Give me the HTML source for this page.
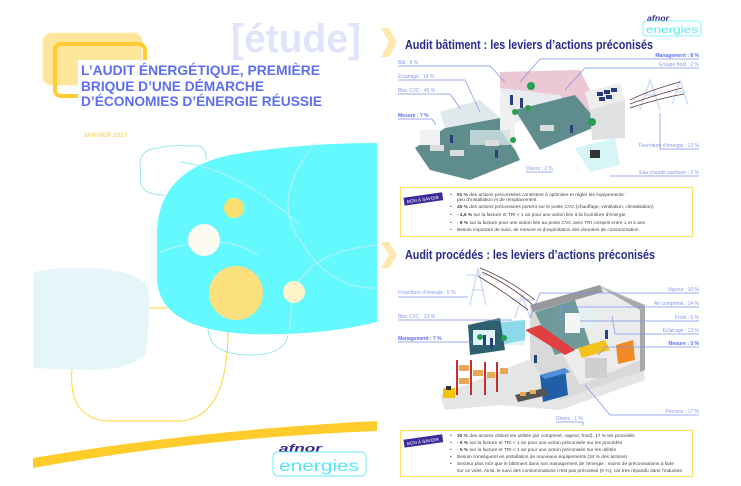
<!DOCTYPE html>
<html><head><meta charset="utf-8"><style>
html,body{margin:0;padding:0;background:#fff;}
body{width:741px;height:486px;overflow:hidden;position:relative;font-family:"Liberation Sans",sans-serif;}
svg{position:absolute;left:0;top:0;}
</style></head><body>
<svg width="741" height="486" viewBox="0 0 741 486" xmlns="http://www.w3.org/2000/svg" font-family="Liberation Sans, sans-serif">
<rect x="0" y="0" width="378" height="486" fill="#fff"/>
<text x="231" y="52" font-size="40" font-weight="bold" fill="#dfe3fb" textLength="130" lengthAdjust="spacingAndGlyphs">[étude]</text>
<rect x="43" y="33" width="99" height="52" rx="8" fill="#fde599" stroke="#fff1bf" stroke-width="1"/>
<rect x="55" y="44" width="90" height="52" rx="6" fill="none" stroke="#ffcc33" stroke-width="4"/>
<rect x="78" y="60" width="248" height="48" fill="#fff"/>
<g font-size="14" font-weight="bold" fill="#5c6ef2">
<text x="81" y="75" textLength="239" lengthAdjust="spacingAndGlyphs">L’AUDIT ÉNERGÉTIQUE, PREMIÈRE</text>
<text x="81" y="91" textLength="183" lengthAdjust="spacingAndGlyphs">BRIQUE D’UNE DÉMARCHE</text>
<text x="81" y="106" textLength="241" lengthAdjust="spacingAndGlyphs">D’ÉCONOMIES D’ÉNERGIE RÉUSSIE</text>
</g>
<text x="83" y="137" font-size="6.5" font-weight="bold" fill="#ffd866">JANVIER 2017</text>
<path d="M33 275 Q33 268 80 268 Q140 268 149 290 Q150 330 145 355 Q125 372 80 370 L33 368 Z" fill="#e6f6f8"/>
<path d="M72 370 Q68 420 110 421 L180 421 Q228 418 228 330 L228 300" fill="none" stroke="#ffd633" stroke-width="1"/>
<path d="M149 308 L168 308" stroke="#ffd633" stroke-width="1"/>
<path d="M160 148 Q162 145 200 146 Q207 150 206 160 M140 165 Q140 148 160 148 M140 165 L141 185 Q145 195 165 195" fill="none" stroke="#7fe0e8" stroke-width="0.8"/>
<path d="M157 230 Q160 170 230 155 Q300 143 377 143 L377 322 Q320 336 250 334 Q160 330 157 280 Z" fill="#64f8ff"/>
<path d="M208 327 Q208 355 250 355 Q285 355 288 335" fill="none" stroke="#7fe0e8" stroke-width="0.8"/>
<g fill="none" stroke="#a8f2f6" stroke-width="1.3">
<path d="M180 162 Q240 170 300 225"/>
<path d="M315 143 Q270 200 300 240 Q330 290 377 288"/>
<path d="M160 252 Q220 230 258 255"/>
<path d="M377 245 Q320 250 300 280 Q290 300 290 330"/>
</g>
<circle cx="234" cy="208" r="10" fill="#fcdf6f"/>
<circle cx="204" cy="240" r="16" fill="#fdfaf0"/>
<circle cx="236" cy="293" r="27" fill="#fbe07d"/>
<circle cx="294" cy="292" r="11" fill="#fdf2c8"/>
<path d="M33 458 Q200 430 377 421 L377 431 Q200 438 33 468 Z" fill="#ffcc2b"/>
<text x="279" y="452" font-size="11" font-weight="bold" font-style="italic" fill="#3b2a8f" textLength="43" lengthAdjust="spacingAndGlyphs">afnor</text>
<rect x="273" y="452" width="93" height="24" rx="5" fill="none" stroke="#66eeff" stroke-width="1"/>
<text x="279" y="471" font-size="16" fill="#55e6f5" textLength="80" lengthAdjust="spacingAndGlyphs">energies</text>

<!-- RIGHT PAGE -->
<path d="M381 28 L389 28 L397 42 L389 57 L381 57 L389 42 Z" fill="#fde8ad"/>
<path d="M381 242 L389 242 L397 255 L389 268 L381 268 L389 255 Z" fill="#fde8ad"/>
<text x="647" y="21" font-size="8" font-weight="bold" font-style="italic" fill="#3b2a8f" textLength="22" lengthAdjust="spacingAndGlyphs">afnor</text>
<rect x="643" y="21" width="58" height="15" rx="3" fill="none" stroke="#66eeff" stroke-width="0.8"/>
<text x="646" y="33" font-size="10" fill="#55e6f5" textLength="52" lengthAdjust="spacingAndGlyphs">energies</text>
<text x="405" y="49" font-size="13" font-weight="bold" fill="#2b2a8e" textLength="248" lengthAdjust="spacingAndGlyphs">Audit bâtiment : les leviers d’actions préconisés</text>
<text x="405" y="259" font-size="13" font-weight="bold" fill="#2b2a8e" textLength="250" lengthAdjust="spacingAndGlyphs">Audit procédés : les leviers d’actions préconisés</text>

<!-- building illustration -->
<polygon points="415,148 445,128 500,118 520,160 470,180 430,170" fill="#5f8c8d"/>
<polygon points="440,112 480,100 500,118 445,128" fill="#dfe8ea"/>
<polygon points="500,85 560,70 585,100 510,125" fill="#e8ecee"/>
<polygon points="500,85 500,130 515,150 515,120" fill="#f0f0f0"/>
<polygon points="500,72 580,70 600,110 590,130 560,95 500,88" fill="#ecc7d4"/>
<polygon points="515,110 575,95 600,125 540,150" fill="#5f8c8d"/>
<polygon points="585,92 620,83 625,100 590,110" fill="#eeeeee"/>
<polygon points="590,110 625,100 625,138 592,140" fill="#e0e0e0"/>
<g fill="#2a3a80"><rect x="597" y="92" width="6" height="4"/><rect x="604" y="90" width="6" height="4"/><rect x="611" y="88" width="6" height="4"/><rect x="599" y="97" width="6" height="4"/><rect x="606" y="95" width="6" height="4"/></g>
<polygon points="575,148 615,138 620,165 590,172" fill="#d7f4f6"/>
<rect x="590" y="150" width="10" height="8" fill="#333"/>
<rect x="470" y="130" width="40" height="15" fill="#cfe3e6" opacity="0.8"/>
<rect x="420" y="130" width="20" height="15" fill="#f2f2f2"/>
<g fill="#ddd"><rect x="430" y="145" width="14" height="6"/><rect x="450" y="150" width="14" height="6"/><rect x="485" y="140" width="14" height="6"/><rect x="540" y="125" width="14" height="6"/></g>
<g fill="#26a050"><circle cx="531" cy="86" r="4"/><circle cx="515" cy="112" r="3"/><circle cx="513" cy="140" r="3"/><circle cx="592" cy="122" r="4"/><circle cx="528" cy="108" r="3"/></g>
<g fill="#2a3f7a"><rect x="510" y="95" width="3" height="10"/><rect x="520" y="98" width="3" height="10"/><rect x="450" y="135" width="3" height="8"/><rect x="570" y="125" width="3" height="8"/><rect x="495" y="150" width="3" height="8"/></g>
<g stroke="#c9daf5" stroke-width="1.2" fill="none">
<path d="M640 110 L650 80 L660 110 M645 95 L655 95"/><path d="M672 105 L680 80 L688 105 M675 92 L685 92"/>
</g>
<g stroke="#5a3b3b" stroke-width="0.8" fill="none"><path d="M630 100 Q650 90 680 82"/><path d="M630 104 Q655 95 682 88"/><path d="M630 108 Q660 98 684 94"/></g>

<g font-size="5" fill="#8898ee">
<text x="398" y="64">Bât : 5 %</text>
<text x="398" y="78">Éclairage : 16 %</text>
<text x="398" y="92">Bloc CVC : 45 %</text>
<text x="398" y="117" font-weight="bold" fill="#5c6ef2">Mesure : 7 %</text>
<text x="699" y="57" text-anchor="end" font-weight="bold" fill="#5c6ef2">Management : 8 %</text>
<text x="699" y="66" text-anchor="end">Groupe froid : 2 %</text>
<text x="699" y="147" text-anchor="end">Fourniture d’énergie : 13 %</text>
<text x="526" y="170">Divers : 2 %</text>
<text x="699" y="174" text-anchor="end">Eau chaude sanitaire : 2 %</text>
</g>
<g stroke="#7e90ee" stroke-width="0.7" fill="none">
<path d="M398 66 L490 66 L505 82"/><path d="M398 80 L465 80 L480 112"/><path d="M398 94 L450 94 L460 108"/>
<path d="M398 119 L432 119 L436 125"/><path d="M699 59 L540 59 L520 82"/><path d="M699 68 L585 68 L565 90"/>
<path d="M699 149 L660 149 L660 113"/><path d="M526 172 L553 172"/><path d="M699 176 L610 176"/>
</g>
<rect x="400.5" y="187.5" width="292" height="49" fill="#fff" stroke="#ffe066" stroke-width="1.2"/>
<g transform="rotate(-8 423 200)"><rect x="404" y="195" width="39" height="8" fill="#3a2a9a"/><text x="407" y="201" font-size="4.5" fill="#fff">BON À SAVOIR</text></g>
<g font-size="4.8" fill="#444">
<text x="450" y="196">•</text><text x="457" y="196"><tspan font-weight="bold">51 %</tspan> des actions préconisées consistent à optimiser et régler les équipements :</text>
<text x="457" y="201">peu d’installation et de remplacement</text>
<text x="450" y="208">•</text><text x="457" y="208"><tspan font-weight="bold">45 %</tspan> des actions préconisées portent sur le poste CVC (chauffage, ventilation, climatisation)</text>
<text x="450" y="216">•</text><text x="457" y="216"><tspan font-weight="bold">- 4,5 %</tspan> sur la facture et TRI &lt; 1 an pour une action liée à la fourniture d’énergie</text>
<text x="450" y="224">•</text><text x="457" y="224"><tspan font-weight="bold">- 8 %</tspan> sur la facture pour une action liée au poste CVC avec TRI compris entre 1 et 4 ans</text>
<text x="450" y="231">•</text><text x="457" y="231">Besoin important de suivi, de mesure et d’exploitation des données de consommation</text>
</g>

<!-- factory illustration -->
<g stroke="#c9daf5" stroke-width="1.3" fill="none">
<path d="M470 305 L478 268 L486 305 M472 290 L484 290 M466 275 L490 275"/><path d="M515 318 L522 295 L530 318 M512 300 L534 300"/>
</g>
<g stroke="#5a3b3b" stroke-width="0.8" fill="none"><path d="M480 268 Q510 280 535 300"/><path d="M482 272 Q510 285 533 305"/><path d="M478 276 Q505 292 528 310"/></g>
<polygon points="440,395 540,355 640,340 645,380 560,410 500,405 445,410" fill="#e5e5e5"/>
<polygon points="530,305 600,285 645,305 645,370 560,400 530,360" fill="#d9d9d9"/>
<polygon points="550,300 600,287 640,305 640,360 580,385 555,340" fill="#ececec"/>
<polygon points="600,287 645,305 645,370 640,372 640,310" fill="#aaa"/>
<polygon points="530,305 600,285 603,292 533,312" fill="#999"/>
<polygon points="535,312 575,300 590,345 555,355" fill="#6e9a9a"/>
<polygon points="525,330 540,325 575,350 565,355" fill="#e04040"/>
<rect x="495" y="320" width="30" height="25" fill="#dff4f8"/>
<polygon points="497,323 525,320 525,340 500,345" fill="#55c8e0" opacity="0.6"/>
<polygon points="468,325 500,318 505,350 470,355" fill="#2f6070"/>
<rect x="473" y="330" width="22" height="15" fill="#dff4f8"/>
<g fill="#c23030"><rect x="456" y="360" width="2" height="35"/><rect x="470" y="360" width="2" height="35"/><rect x="484" y="362" width="2" height="33"/><rect x="496" y="362" width="2" height="30"/></g>
<g fill="#e8a85a"><rect x="459" y="365" width="10" height="6"/><rect x="459" y="378" width="10" height="6"/><rect x="473" y="370" width="10" height="6"/><rect x="487" y="372" width="8" height="6"/><rect x="500" y="368" width="8" height="6"/></g>
<rect x="443" y="388" width="12" height="10" fill="#f2c300"/><rect x="446" y="386" width="5" height="4" fill="#333"/>
<polygon points="540,375 565,368 568,395 543,402" fill="#1f5fa8"/>
<polygon points="540,375 565,368 570,372 545,379" fill="#4f8fd8"/>
<polygon points="578,348 605,340 610,350 582,358" fill="#f5c21b"/>
<rect x="585" y="358" width="22" height="20" fill="#cfcfcf"/>
<polygon points="616,345 633,340 635,360 618,364" fill="#f08a24"/>
<polygon points="515,395 545,388 548,395 518,402" fill="#555"/>
<g fill="#e8a85a"><rect x="520" y="392" width="6" height="4"/><rect x="530" y="390" width="6" height="4"/></g>
<g fill="#26a050"><circle cx="480" cy="337" r="3"/><circle cx="504" cy="338" r="3"/></g>
<g fill="#2a3f7a"><rect x="483" y="335" width="3" height="10"/><rect x="490" y="338" width="3" height="10"/><rect x="534" y="355" width="3" height="8"/><rect x="605" y="330" width="3" height="9"/></g>
<rect x="565" y="313" width="15" height="20" fill="#f5f5f5"/>
<rect x="580" y="308" width="18" height="20" fill="#e5f0f2"/>

<g font-size="5" fill="#8898ee">
<text x="699" y="291" text-anchor="end">Vapeur : 10 %</text>
<text x="699" y="305" text-anchor="end">Air comprimé : 14 %</text>
<text x="699" y="319" text-anchor="end">Froid : 6 %</text>
<text x="699" y="332" text-anchor="end">Éclairage : 13 %</text>
<text x="699" y="345" text-anchor="end" font-weight="bold" fill="#5c6ef2">Mesure : 3 %</text>
<text x="398" y="294">Fourniture d’énergie : 6 %</text>
<text x="398" y="318">Bloc CVC : 23 %</text>
<text x="398" y="340" font-weight="bold" fill="#5c6ef2">Management : 7 %</text>
<text x="699" y="413" text-anchor="end">Process : 17 %</text>
<text x="556" y="420">Divers : 1 %</text>
</g>
<g stroke="#7e90ee" stroke-width="0.7" fill="none">
<path d="M699 293 L540 293 L530 318"/><path d="M699 307 L560 307 L560 325"/><path d="M699 321 L580 321"/>
<path d="M699 334 L615 334 L612 316"/><path d="M699 347 L605 347 L598 355"/>
<path d="M398 297 L468 297"/><path d="M398 320 L512 320"/><path d="M398 342 L472 342"/>
<path d="M699 415 L610 415 L585 385"/><path d="M556 422 L583 422 L583 426"/>
</g>
<rect x="400.5" y="430.5" width="292" height="46" fill="#fff" stroke="#ffe066" stroke-width="1.2"/>
<g transform="rotate(-8 423 442)"><rect x="404" y="437" width="39" height="8" fill="#3a2a9a"/><text x="407" y="443" font-size="4.5" fill="#fff">BON À SAVOIR</text></g>
<g font-size="4.8" fill="#444">
<text x="450" y="437">•</text><text x="457" y="437"><tspan font-weight="bold">30 %</tspan> des actions ciblent les utilités (air comprimé, vapeur, froid), 17 % les procédés</text>
<text x="450" y="444">•</text><text x="457" y="444"><tspan font-weight="bold">- 6 %</tspan> sur la facture et TRI &lt; 1 an pour une action préconisée sur les procédés</text>
<text x="450" y="451">•</text><text x="457" y="451"><tspan font-weight="bold">- 5 %</tspan> sur la facture et TRI &lt; 1 an pour une action préconisée sur les utilités</text>
<text x="450" y="458">•</text><text x="457" y="458">Besoin conséquent en installation de nouveaux équipements (34 % des actions)</text>
<text x="450" y="465">•</text><text x="457" y="465">Secteur plus mûr que le bâtiment dans son management de l’énergie : moins de préconisations à faire</text>
<text x="457" y="472">sur ce volet. Ainsi, le suivi des consommations n’est pas préconisé (0 %), car très répandu dans l’industrie.</text>
</g>
</svg>
</body></html>
